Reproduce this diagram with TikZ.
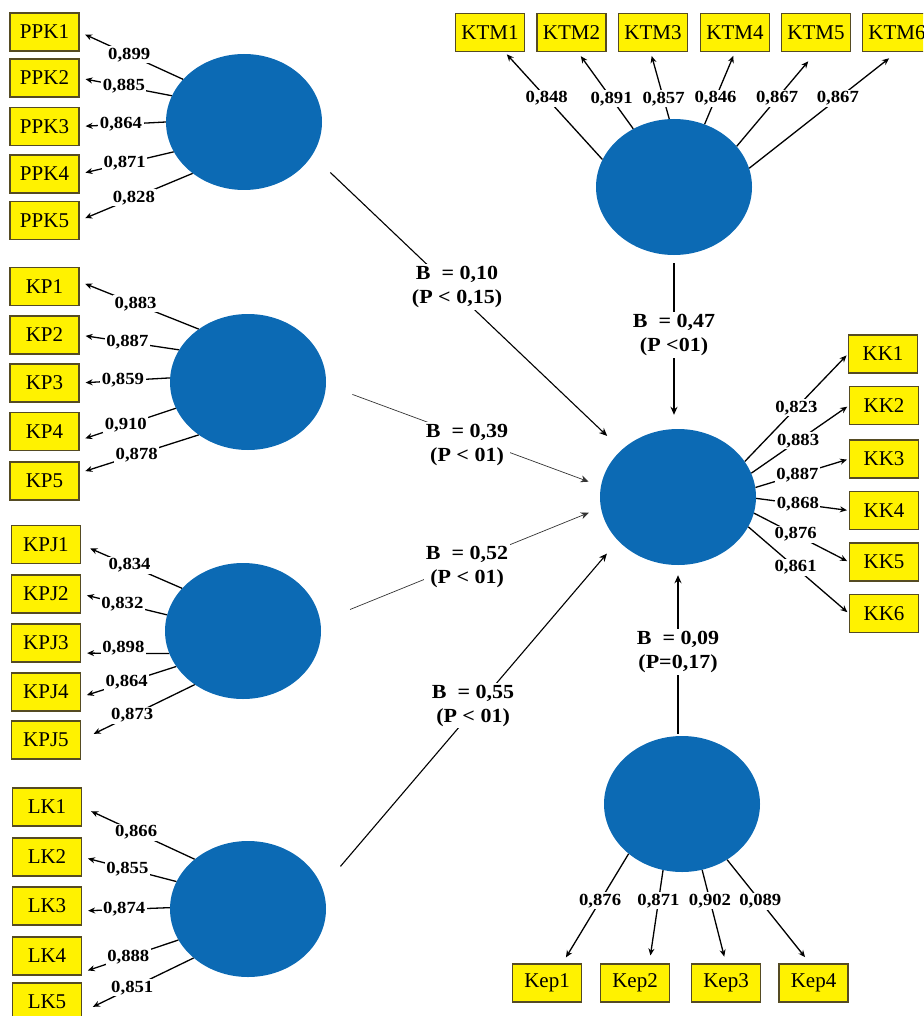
\documentclass[tikz,border=0pt]{standalone}
\usepackage{fontspec}
\setmainfont{Liberation Serif}
\newfontfamily\widefont[FakeStretch=1.1]{Liberation Serif}
\usetikzlibrary{shapes.geometric,arrows.meta}
\definecolor{lvblue}{RGB}{12,106,180}
\definecolor{boxedge}{RGB}{85,75,35}
\begin{document}
\begin{tikzpicture}[x=1pt,y=-1pt,
  lv/.style={ellipse, fill=lvblue, minimum width=156pt, minimum height=136pt, inner sep=0pt},
  ind/.style={draw=boxedge, fill=yellow, line width=1.2pt, minimum width=69pt, minimum height=38pt, inner sep=0pt, font=\fontsize{21}{21}\selectfont},
  ld/.style={draw=black, line width=1.3pt, -{Stealth[length=7pt,width=6pt]}, shorten >=6pt},
  lab/.style={fill=white, inner sep=1.5pt, font=\widefont\bfseries\fontsize{17}{17}\selectfont},
  path/.style={draw=black, -{Stealth[length=8pt,width=7pt]}},
  beta/.style={fill=white, align=center, inner sep=2pt, font=\widefont\bfseries\fontsize{20}{24}\selectfont}]
\useasboundingbox (0,0) rectangle (923,1016);
\clip (0,0) rectangle (923,1016);

% latent variables
\node[lv] (PPK) at (244,122) {};
\node[lv] (KP)  at (248,382) {};
\node[lv] (KPJ) at (243,631) {};
\node[lv] (LK)  at (248,909) {};
\node[lv] (KTM) at (674,187) {};
\node[lv] (KK)  at (678,497) {};
\node[lv] (Kep) at (682,804) {};

% indicators
\node[ind] (PPK1) at (44.5,32) {PPK1};
\node[ind] (PPK2) at (44.5,78) {PPK2};
\node[ind] (PPK3) at (44.5,126.5) {PPK3};
\node[ind] (PPK4) at (44.5,174) {PPK4};
\node[ind] (PPK5) at (44.5,220.5) {PPK5};
\node[ind] (KP1) at (44.5,286.5) {KP1};
\node[ind] (KP2) at (44.5,335) {KP2};
\node[ind] (KP3) at (44.5,383) {KP3};
\node[ind] (KP4) at (44.5,431.5) {KP4};
\node[ind] (KP5) at (44.5,481) {KP5};
\node[ind] (KPJ1) at (46,544.5) {KPJ1};
\node[ind] (KPJ2) at (46,594) {KPJ2};
\node[ind] (KPJ3) at (46,643) {KPJ3};
\node[ind] (KPJ4) at (46,692) {KPJ4};
\node[ind] (KPJ5) at (46,740) {KPJ5};
\node[ind] (LK1) at (47,807) {LK1};
\node[ind] (LK2) at (47,857) {LK2};
\node[ind] (LK3) at (47,906) {LK3};
\node[ind] (LK4) at (47,956) {LK4};
\node[ind] (LK5) at (47,1002) {LK5};
\node[ind] (KTM1) at (490,32.5) {KTM1};
\node[ind] (KTM2) at (571.5,32.5) {KTM2};
\node[ind] (KTM3) at (653,32.5) {KTM3};
\node[ind] (KTM4) at (735,32.5) {KTM4};
\node[ind] (KTM5) at (816,32.5) {KTM5};
\node[ind] (KTM6) at (897,32.5) {KTM6};
\node[ind] (KK1) at (883,354) {KK1};
\node[ind] (KK2) at (884,405.5) {KK2};
\node[ind] (KK3) at (884,459) {KK3};
\node[ind] (KK4) at (884,510.5) {KK4};
\node[ind] (KK5) at (884,562) {KK5};
\node[ind] (KK6) at (884,613.5) {KK6};
\node[ind] (Kep1) at (547,983) {Kep1};
\node[ind] (Kep2) at (635,983) {Kep2};
\node[ind] (Kep3) at (726,983) {Kep3};
\node[ind] (Kep4) at (813.5,983) {Kep4};

% loadings PPK
\draw[ld] (PPK.145) -- node[lab,pos=.52]{0,899} (PPK1.east);
\draw[ld] (PPK.160) -- node[lab,pos=.52]{0,885} (PPK2.east);
\draw[ld] (PPK.180) -- node[lab,pos=.52]{0,864} (PPK3.east);
\draw[ld] (PPK.203) -- node[lab,pos=.52]{0,871} (PPK4.east);
\draw[ld] (PPK.225) -- node[lab,pos=.52]{0,828} (PPK5.east);
% loadings KP
\draw[ld] (KP.133) -- node[lab,pos=.53]{0,883} (KP1.8);
\draw[ld] (KP.155) -- node[lab,pos=.52]{0,887} (KP2.east);
\draw[ld] (KP.177) -- node[lab,pos=.52]{0,859} (KP3.east);
\draw[ld] (KP.200) -- node[lab,pos=.52]{0,910} (KP4.-14);
\draw[ld] (KP.227) -- node[lab,pos=.52]{0,878} (KP5.13);
% loadings KPJ
\draw[ld,shorten >=10pt] (KPJ.145) -- node[lab,pos=.52]{0,834} (KPJ1.east);
\draw[ld] (KPJ.168) -- node[lab,pos=.52]{0,832} (KPJ2.east);
\draw[ld] (KPJ.197) -- node[lab,pos=.52,yshift=5pt]{0,898} (KPJ3.-16);
\draw[ld] (KPJ.208) -- node[lab,pos=.52]{0,864} (KPJ4.-8);
\draw[ld,shorten >=14pt] (KPJ.228) -- node[lab,pos=.55]{0,873} (KPJ5.east);
% loadings LK
\draw[ld,shorten >=10pt] (LK.137) -- node[lab,pos=.52]{0,866} (LK1.east);
\draw[ld] (LK.159) -- node[lab,pos=.52]{0,855} (LK2.east);
\draw[ld] (LK.179) -- node[lab,pos=.52]{0,874} (LK3.-8);
\draw[ld] (LK.204) -- node[lab,pos=.52]{0,888} (LK4.-25);
\draw[ld,shorten >=12pt] (LK.222) -- node[lab,pos=.55]{0,851} (LK5.-16);
% loadings KTM
\draw[ld,shorten >=3pt] (KTM.159) -- node[lab,pos=.57]{0,848} (KTM1.-53);
\draw[ld,shorten >=5pt] (KTM.125) -- node[lab,pos=.39]{0,891} (KTM2.-72);
\draw[ld,shorten >=4pt] (KTM.94) -- node[lab,pos=.30]{0,857} (KTM3.-97);
\draw[ld,shorten >=4pt] (KTM.64) -- node[lab,pos=.36]{0,846} (KTM4.south);
\draw[ld,shorten >=12pt] (KTM.33) -- node[lab,pos=.51]{0,867} (KTM5.south);
\draw[ld,shorten >=10pt] (KTM.14) -- node[lab,pos=.60]{0,867} (KTM6.south);
% loadings KK
\draw[ld,shorten >=2pt] (KK.28) -- node[lab,pos=.5]{0,823} (KK1.west);
\draw[ld,shorten >=2pt] (KK.18) -- node[lab,pos=.48]{0,883} (KK2.west);
\draw[ld,shorten >=2pt] (KK.7) -- node[lab,pos=.45]{0,887} (KK3.west);
\draw[ld,shorten >=2pt] (KK.-1) -- node[lab,pos=.45]{0,868} (KK4.west);
\draw[ld,shorten >=2pt] (KK.-12) -- node[lab,pos=.44]{0,876} (KK5.west);
\draw[ld,shorten >=2pt] (KK.-23) -- node[lab,pos=.47]{0,861} (KK6.west);
% loadings Kep
\draw[ld,shorten >=7pt] (Kep.223) -- node[lab,pos=.43]{0,876} (Kep1.52);
\draw[ld,shorten >=8pt] (Kep.254) -- node[lab,pos=.33]{0,871} (Kep2.54);
\draw[ld,shorten >=7pt] (Kep.-73) -- node[lab,pos=.33]{0,902} (Kep3.north);
\draw[ld,shorten >=8pt] (Kep.-51) -- node[lab,pos=.40]{0,089} (Kep4.100);

% structural paths
\draw[path, line width=1.1pt, shorten <=25pt, shorten >=20pt] (PPK.-26) -- node[beta,pos=.468,yshift=6pt]{B~~= 0,10\\(P < 0,15)} (KK.140);
\draw[path, line width=0.7pt, draw=black!80, shorten <=28pt, shorten >=13pt] (KP.-2) -- node[beta,pos=.513,yshift=-8pt]{B~~= 0,39\\(P < 01)} (KK.172);
\draw[path, line width=0.7pt, draw=black!80, shorten <=32pt, shorten >=13pt] (KPJ.7) -- node[beta,pos=.523,yshift=-5pt]{B~~= 0,52\\(P < 01)} (KK.188);
\draw[path, line width=1.1pt, shorten <=28pt, shorten >=17pt] (LK.16) -- node[beta,pos=.51,yshift=5pt]{B~~= 0,55\\(P < 01)} (KK.216);
\draw[path, line width=2pt, shorten <=8pt, shorten >=14pt] (KTM.south) -- node[beta,pos=.46]{B~~= 0,47\\(P <01)} (KTM.south |- KK.north);
\draw[path, line width=2pt, shorten <=2pt, shorten >=10pt] (KK.south |- Kep.north) -- node[beta,pos=.49]{B~~= 0,09\\(P=0,17)} (KK.south);
\end{tikzpicture}
\end{document}
